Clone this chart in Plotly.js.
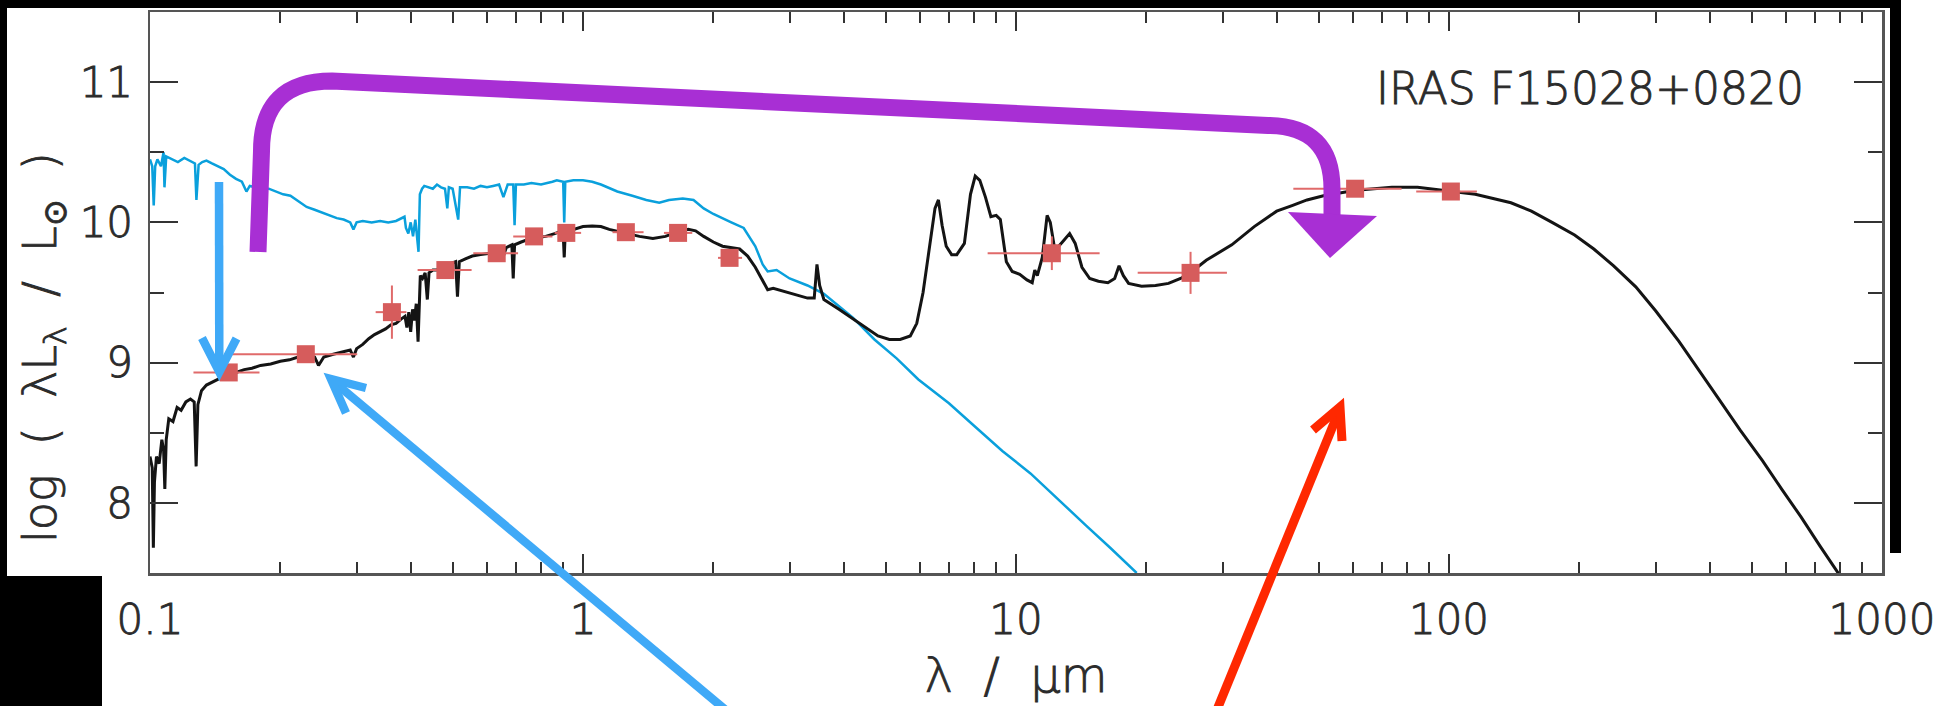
<!DOCTYPE html>
<html><head><meta charset="utf-8">
<script src="https://cdn.plot.ly/plotly-3.0.1.min.js"></script>
<style>html,body{margin:0;padding:0;background:#fff;overflow:hidden}#chart{width:1954px;height:706px}
#chart svg text{stroke:#2b2b2b;stroke-width:0.9px}</style>
</head><body><div id="chart"></div>
<script>
// ---------------- data ----------------
// Unattenuated stellar spectrum (blue): wavelength in micron, log(lambda L_lambda / Lsun)
const starWave = [0.100,0.1012,0.102,0.1028,0.104,0.106,0.1075,0.108,0.109,0.112,0.116,0.120,0.124,0.127,0.128,0.1295,0.132,0.135,0.139,0.143,0.148,0.153,0.158,0.163,0.167,0.170,0.175,0.181,0.188,0.195,0.203,0.211,0.220,0.230,0.240,0.250,0.260,0.270,0.280,0.290,0.295,0.300,0.310,0.325,0.340,0.355,0.370,0.380,0.387,0.390,0.395,0.400,0.405,0.410,0.414,0.417,0.420,0.425,0.430,0.440,0.450,0.460,0.470,0.480,0.486,0.490,0.500,0.515,0.520,0.540,0.560,0.580,0.600,0.620,0.640,0.655,0.670,0.690,0.695,0.700,0.730,0.760,0.800,0.850,0.870,0.900,0.905,0.910,0.950,1.00,1.05,1.10,1.20,1.30,1.40,1.50,1.58,1.70,1.80,1.90,2.00,2.20,2.35,2.50,2.60,2.67,2.80,3.00,3.30,3.60,4.20,4.71,5.30,5.95,7.00,8.00,9.30,10.8,12.5,14.5,16.5,19.0];
const starLum  = [10.45,10.40,10.12,10.40,10.45,10.40,10.50,10.25,10.47,10.45,10.43,10.46,10.44,10.42,10.16,10.41,10.43,10.44,10.42,10.40,10.38,10.34,10.31,10.29,10.22,10.26,10.25,10.24,10.24,10.22,10.20,10.19,10.15,10.11,10.09,10.07,10.05,10.03,10.02,10.00,9.95,10.00,10.01,10.00,10.01,10.00,10.01,10.03,10.04,9.96,9.92,10.00,9.90,10.02,9.85,9.79,10.20,10.24,10.26,10.25,10.24,10.27,10.25,10.24,10.10,10.25,10.24,10.02,10.25,10.25,10.24,10.26,10.25,10.26,10.27,10.18,10.27,10.27,9.98,10.27,10.27,10.28,10.27,10.29,10.30,10.29,10.00,10.29,10.30,10.30,10.29,10.27,10.22,10.19,10.16,10.14,10.16,10.17,10.16,10.10,10.06,10.00,9.96,9.83,9.70,9.65,9.66,9.60,9.55,9.49,9.32,9.165,9.03,8.88,8.71,8.55,8.37,8.21,8.03,7.84,7.68,7.50];

// Best-fit SED model (black)
const modelWave = [0.100,0.1012,0.1018,0.1024,0.1035,0.105,0.1065,0.1075,0.1082,0.109,0.1105,0.113,0.1155,0.118,0.121,0.124,0.1265,0.1278,0.129,0.1315,0.135,0.139,0.143,0.147,0.152,0.158,0.165,0.172,0.180,0.190,0.200,0.210,0.220,0.230,0.240,0.245,0.252,0.265,0.280,0.290,0.295,0.300,0.310,0.320,0.330,0.340,0.350,0.360,0.370,0.380,0.388,0.392,0.396,0.400,0.404,0.408,0.412,0.416,0.419,0.421,0.426,0.432,0.437,0.441,0.450,0.460,0.470,0.485,0.498,0.508,0.513,0.518,0.535,0.555,0.580,0.610,0.640,0.655,0.665,0.685,0.690,0.695,0.720,0.750,0.780,0.820,0.860,0.880,0.900,0.905,0.910,0.950,1.00,1.05,1.10,1.15,1.25,1.35,1.45,1.55,1.65,1.75,1.82,1.90,2.00,2.10,2.30,2.40,2.50,2.60,2.67,2.75,2.90,3.10,3.30,3.42,3.47,3.52,3.60,3.90,4.20,4.50,4.80,5.10,5.40,5.70,5.90,6.10,6.30,6.50,6.62,6.75,6.90,7.10,7.30,7.60,7.85,8.05,8.25,8.50,8.75,9.00,9.20,9.50,9.80,10.2,10.6,10.9,11.05,11.2,11.5,11.8,12.0,12.3,12.8,13.3,13.7,14.2,14.8,15.5,16.3,16.9,17.3,17.7,18.2,19.5,21.0,22.5,24.0,25.5,27.5,31.5,35.5,40.0,43.4,47.0,51.3,56.0,60.0,64.0,73.8,84.6,100,115,139,155,173,195,216,240,270,300,340,380,420,470,530,586,650,720,800];
const modelLum  = [8.33,8.25,7.68,8.15,8.33,8.28,8.45,8.38,8.10,8.45,8.60,8.58,8.68,8.66,8.72,8.74,8.72,8.26,8.70,8.80,8.84,8.86,8.88,8.90,8.92,8.93,8.95,8.96,8.98,8.99,9.01,9.02,9.04,9.05,9.04,8.98,9.04,9.06,9.08,9.09,9.04,9.10,9.13,9.17,9.20,9.22,9.24,9.27,9.28,9.31,9.33,9.25,9.36,9.22,9.38,9.30,9.42,9.15,9.50,9.62,9.60,9.64,9.45,9.64,9.66,9.66,9.68,9.69,9.71,9.72,9.47,9.72,9.74,9.76,9.77,9.78,9.80,9.76,9.82,9.84,9.60,9.84,9.86,9.88,9.89,9.90,9.92,9.93,9.92,9.75,9.93,9.95,9.97,9.975,9.97,9.95,9.925,9.90,9.885,9.90,9.93,9.95,9.94,9.90,9.86,9.83,9.81,9.76,9.68,9.58,9.52,9.53,9.51,9.48,9.46,9.46,9.70,9.55,9.45,9.38,9.31,9.25,9.19,9.165,9.165,9.19,9.28,9.50,9.80,10.10,10.16,9.98,9.83,9.77,9.77,9.85,10.20,10.33,10.30,10.18,10.04,10.05,10.02,9.72,9.65,9.63,9.59,9.57,9.66,9.62,9.75,10.05,10.00,9.80,9.86,9.92,9.85,9.68,9.60,9.58,9.57,9.60,9.69,9.62,9.565,9.545,9.55,9.565,9.60,9.65,9.73,9.84,9.97,10.08,10.12,10.16,10.19,10.21,10.225,10.235,10.25,10.25,10.225,10.20,10.14,10.08,10.00,9.91,9.81,9.69,9.54,9.37,9.15,8.93,8.74,8.52,8.30,8.10,7.90,7.69,7.48];

// Photometry (red squares) with bandwidths and uncertainties
const photBand  = ['FUV','NUV','u','g','r','i','z','J','H','K','IRAS 12','IRAS 25','IRAS 60','IRAS 100'];
const photWave  = [0.152,0.229,0.362,0.481,0.632,0.771,0.915,1.256,1.658,2.18,12.1,25.3,60.7,101];
const photLum   = [8.93,9.06,9.36,9.66,9.78,9.90,9.925,9.93,9.925,9.747,9.78,9.64,10.24,10.22];
const photWaveLo = [0.026,0.075,0.030,0.066,0.074,0.081,0.055,0.086,0.12,0.13,3.5,6.2,17,17];
const photWaveHi = [0.027,0.072,0.029,0.072,0.076,0.079,0.075,0.124,0.13,0.15,3.5,5.4,17,15];
const photLumErr = [0.03,0.03,0.19,0.03,0.03,0.03,0.03,0.03,0.03,0.03,0.12,0.15,0.04,0.04];

// Axis ticks
const xTickVals = [0.1, 1, 10, 100, 1000];
const xTickText = ['0.1', '1', '10', '100', '1000'];
const yTickVals = [8, 9, 10, 11];
const yTickText = ['8', '9', '10', '11'];
const yMinorVals = [7.5, 8.5, 9.5, 10.5, 11.5];
const xMinorVals = [];
[0.1, 1, 10, 100].forEach(d => { for (let k = 2; k <= 9; k++) xMinorVals.push(+(d * k).toPrecision(3)); });

const objectName = 'IRAS F15028+0820';

// ---------------- page geometry (pixels) ----------------
const W = 1954, H = 706, ML = 150, MR = 72, MT = 12, MB = 133;
const PW = W - ML - MR, PH = H - MT - MB;
const px = x => (x - ML) / PW;
const py = y => (H - MB - y) / PH;
function pathOf(cmds) {
  return cmds.map(c => c[0] + ' ' + c.slice(1).reduce((a, v, i) => {
    if (i % 2 === 0) a.push(px(v).toFixed(5)); else a[a.length - 1] += ',' + py(v).toFixed(5);
    return a;
  }, []).join(' ')).join(' ');
}
const FONT = 'DejaVu Sans, Liberation Sans, sans-serif';
const TXT = '#2b2b2b';

// overlay annotations drawn on the figure (arrows and masking bars)
const purple = '#a82fd4', blueArrow = '#3fa9f7', redArrow = '#ff2800';
const shapes = [
  {type:'path', xref:'paper', yref:'paper', layer:'above', line:{color:purple, width:17},
   path: pathOf([['M',258,252],['L',261.5,151],['Q',261.5,81,332,81],['L',1268,125.5],['Q',1332,126,1332,189],['L',1332,216]])},
  {type:'path', xref:'paper', yref:'paper', layer:'above', line:{width:0}, fillcolor:purple,
   path: pathOf([['M',1288,212],['L',1377,216],['L',1330,258]]) + ' Z'},
  {type:'path', xref:'paper', yref:'paper', layer:'above', line:{color:blueArrow, width:8.5},
   path: pathOf([['M',219,182],['L',219.3,368]])},
  {type:'path', xref:'paper', yref:'paper', layer:'above', line:{color:blueArrow, width:8.5},
   path: pathOf([['M',202,338],['L',219.3,372],['L',236.5,338.5]])},
  {type:'path', xref:'paper', yref:'paper', layer:'above', line:{color:blueArrow, width:8.5},
   path: pathOf([['M',334,382],['L',740,722]])},
  {type:'path', xref:'paper', yref:'paper', layer:'above', line:{color:blueArrow, width:8.5},
   path: pathOf([['M',366,388],['L',331,379],['L',346,413]])},
  {type:'path', xref:'paper', yref:'paper', layer:'above', line:{color:redArrow, width:9},
   path: pathOf([['M',1339,411],['L',1212,722]])},
  {type:'path', xref:'paper', yref:'paper', layer:'above', line:{color:redArrow, width:9},
   path: pathOf([['M',1313,430],['L',1340,407],['L',1342,441]])},
  // black masking bars of the screenshot
  {type:'rect', xref:'paper', yref:'paper', layer:'above', line:{width:0}, fillcolor:'#000', x0:px(0), x1:px(1901), y0:py(0), y1:py(8)},
  {type:'rect', xref:'paper', yref:'paper', layer:'above', line:{width:0}, fillcolor:'#000', x0:px(0), x1:px(7), y0:py(0), y1:py(576)},
  {type:'rect', xref:'paper', yref:'paper', layer:'above', line:{width:0}, fillcolor:'#000', x0:px(0), x1:px(102), y0:py(576), y1:py(706)},
  {type:'rect', xref:'paper', yref:'paper', layer:'above', line:{width:0}, fillcolor:'#000', x0:px(1890), x1:px(1901), y0:py(0), y1:py(553)}
];

const traces = [
  {type:'scatter', mode:'lines', x:starWave, y:starLum, line:{color:'#0aa0dc', width:2.5}, hoverinfo:'skip', name:'stellar'},
  {type:'scatter', mode:'lines', x:modelWave, y:modelLum, line:{color:'#141414', width:3}, hoverinfo:'skip', name:'model'},
  {type:'scatter', mode:'markers', x:photWave, y:photLum, text:photBand, name:'photometry',
   marker:{symbol:'square', size:18, color:'#d65c5c'},
   error_x:{type:'data', symmetric:false, array:photWaveHi, arrayminus:photWaveLo, color:'#e06a6a', thickness:2, width:0},
   error_y:{type:'data', array:photLumErr, color:'#e06a6a', thickness:2, width:0}}
];

const axisCommon = {
  showline:true, linecolor:'#555', linewidth:2.5, mirror:'allticks', ticks:'inside',
  tickcolor:'#333', tickwidth:2, showgrid:false, zeroline:false,
  tickfont:{family:FONT, size:42, color:TXT, weight:300}
};

const layout = {
  width:W, height:H, margin:{l:ML, r:MR, t:MT, b:MB, pad:0},
  paper_bgcolor:'#fff', plot_bgcolor:'#fff', showlegend:false,
  font:{family:FONT, color:TXT},
  xaxis: Object.assign({}, axisCommon, {
    type:'log', range:[-1, 3], tickmode:'array', tickvals:xTickVals, ticktext:xTickText,
    ticklen:19, ticklabelstandoff:8,
    minor:{tickmode:'array', tickvals:xMinorVals, ticks:'inside', ticklen:11, tickwidth:2, tickcolor:'#333', showgrid:false},
    title:{text:'λ\u00a0\u00a0/\u00a0\u00a0μm', font:{family:FONT, size:48, color:TXT, weight:300}, standoff:16}
  }),
  yaxis: Object.assign({}, axisCommon, {
    range:[7.5, 11.5], tickmode:'array', tickvals:yTickVals, ticktext:yTickText,
    ticklen:28, ticklabelstandoff:6,
    minor:{tickmode:'array', tickvals:yMinorVals, ticks:'inside', ticklen:14, tickwidth:2, tickcolor:'#333', showgrid:false}
  }),
  annotations:[
    {text:objectName, xref:'paper', yref:'paper', x:px(1806), y:py(88), xanchor:'right', yanchor:'middle',
     showarrow:false, font:{family:FONT, size:44, color:TXT, weight:300}},
    {text:'log\u00a0\u00a0(\u00a0\u00a0λL<sub>λ</sub>\u00a0\u00a0/\u00a0\u00a0L<sub>⊙</sub>\u00a0\u00a0)', xref:'paper', yref:'paper',
     x:px(43), y:py(348), xanchor:'center', yanchor:'middle', textangle:-90, showarrow:false,
     font:{family:FONT, size:46, color:TXT, weight:300}}
  ],
  shapes: shapes
};

Plotly.newPlot('chart', traces, layout, {staticPlot:true, displayModeBar:false});
</script></body></html>
